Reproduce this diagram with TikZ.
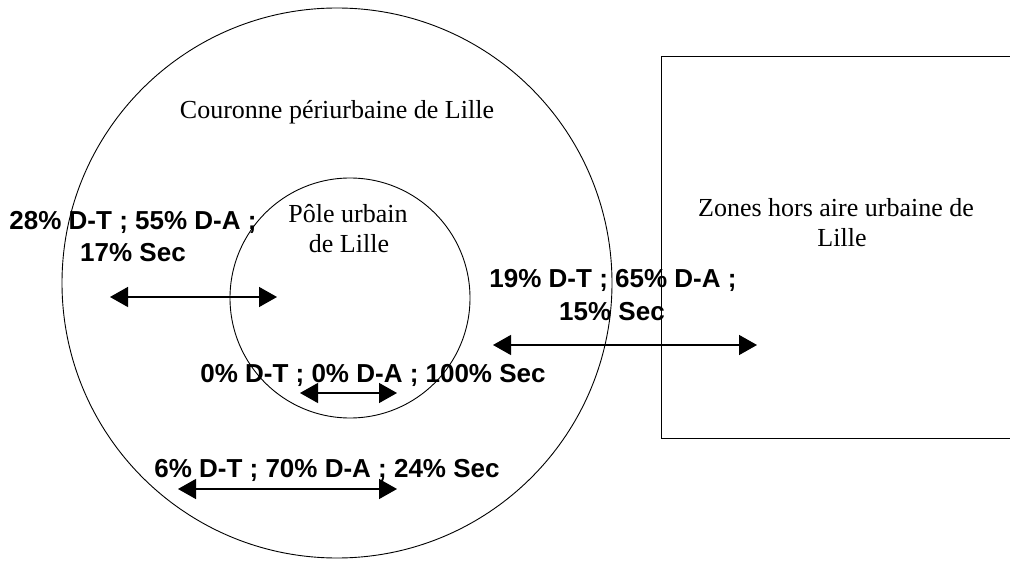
\documentclass[tikz,border=0pt]{standalone}
\usepackage{fontspec}
\setmainfont{Liberation Serif}
\newfontfamily\labelsans{Liberation Sans}
\usetikzlibrary{arrows.meta}
\tikzset{
  zone/.style={draw, line width=0.9pt, inner sep=0pt},
  zonename/.style={font=\fontsize{26}{30}\selectfont, anchor=base, inner sep=0pt},
  share/.style={font=\labelsans\bfseries\fontsize{26}{32}\selectfont, anchor=base, inner sep=0pt},
  flow/.style={line width=1.4pt, {Triangle[length=18pt,width=20pt]}-{Triangle[length=18pt,width=20pt]}},
}
\begin{document}
\begin{tikzpicture}[x=1pt,y=-1pt]
\useasboundingbox (0,0) rectangle (1010,561);

% zones
\node[zone, circle, minimum size=550pt] (couronne) at (337,283) {};
\node[zone, circle, minimum size=240pt] (pole) at (350,298) {};
\node[zone, rectangle, line width=1.1pt, minimum width=352pt, minimum height=382pt, anchor=north west] (hors) at (661,56) {};

% zone names
\node[zonename] (tcour) at (337,119) {Couronne périurbaine de Lille};
\node[zonename] (tpole1) at (348,223) {Pôle urbain};
\node[zonename] (tpole2) at (349,253) {de Lille};
\node[zonename] (thors1) at (836,217) {Zones hors aire urbaine de};
\node[zonename] (thors2) at (842,247) {Lille};

% flow shares
\node[share] (s1a) at (133,230) {28\% D-T ; 55\% D-A ;};
\node[share] (s1b) at (133,262) {17\% Sec};
\node[share] (s4a) at (613,288) {19\% D-T ; 65\% D-A ;};
\node[share] (s4b) at (612,321) {15\% Sec};
\node[share] (s0) at (373,383) {0\% D-T ; 0\% D-A ; 100\% Sec};
\node[share] (s6) at (327,477) {6\% D-T ; 70\% D-A ; 24\% Sec};

% flow arrows
\coordinate (a1l) at (110,297); \coordinate (a1r) at (277,297);
\coordinate (a4l) at (493,345); \coordinate (a4r) at (757,345);
\coordinate (a0l) at (300,393); \coordinate (a0r) at (397,393);
\coordinate (a6l) at (178,489); \coordinate (a6r) at (397,489);
\draw[flow] (a1l) -- (a1r);
\draw[flow] (a4l) -- (a4r);
\draw[flow] (a0l) -- (a0r);
\draw[flow] (a6l) -- (a6r);
\end{tikzpicture}
\end{document}
